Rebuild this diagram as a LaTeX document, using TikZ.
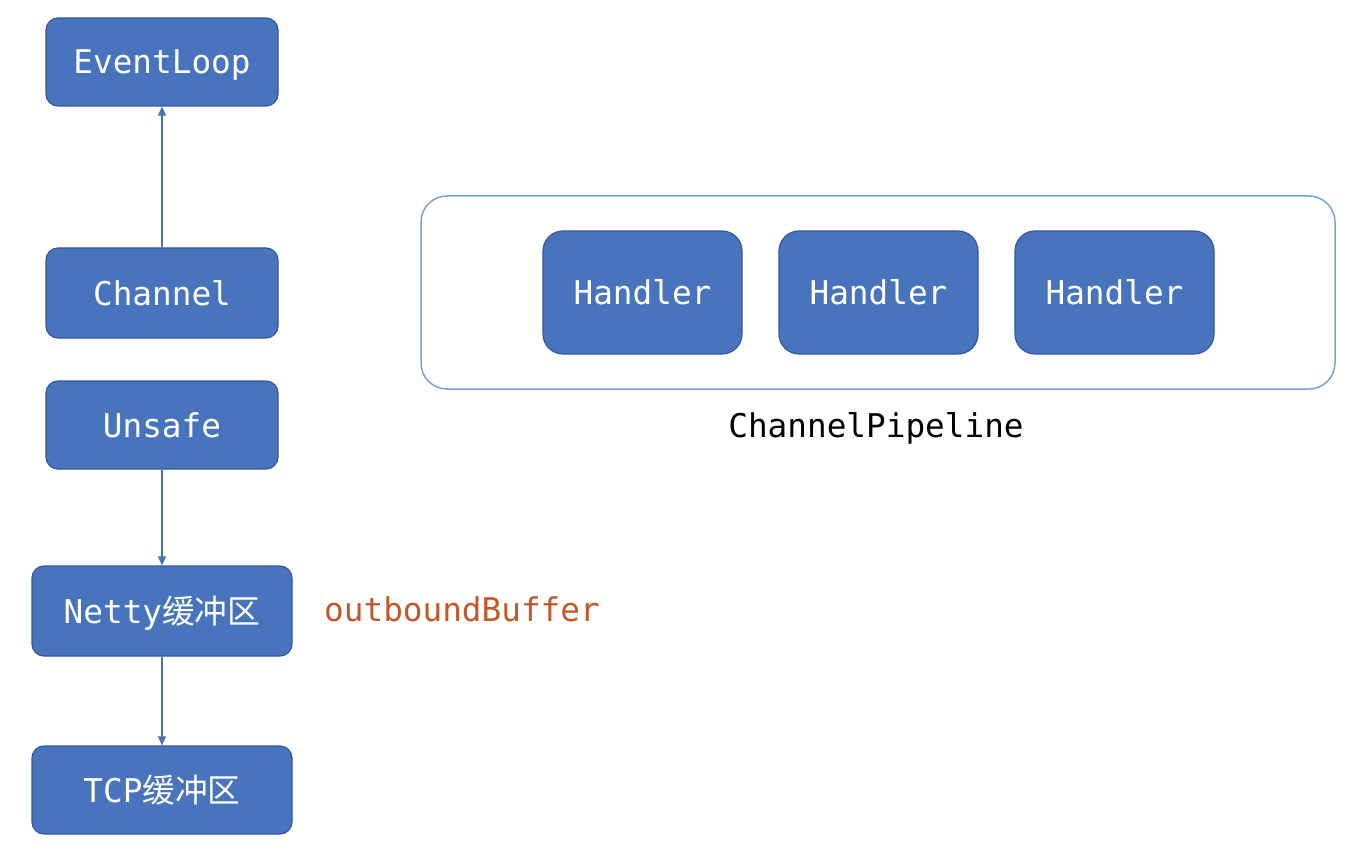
\documentclass[tikz,border=0pt]{standalone}
\usepackage{fontspec}
\setmainfont{DejaVu Sans Mono}
\newfontfamily\cjk{Noto Sans CJK SC}
\usetikzlibrary{arrows.meta}
\definecolor{boxfill}{HTML}{4874BE}
\definecolor{boxdraw}{HTML}{34589A}
\definecolor{linecol}{HTML}{4A72B0}
\definecolor{contdraw}{HTML}{75A4D4}
\definecolor{orangetxt}{HTML}{C0582A}
\tikzset{
  blk/.style={draw=boxdraw, line width=1.2pt, fill=boxfill, rounded corners=12pt,
    text=white, font=\fontsize{32.7}{36}\selectfont, inner sep=0pt, anchor=center,
    text height=24pt, text depth=0pt},
  hblk/.style={blk, rounded corners=20pt, minimum width=199pt, minimum height=123pt},
  conn/.style={draw=linecol, line width=1.5pt, -{Triangle[length=9pt,width=8pt]}},
  txt/.style={font=\fontsize{32.7}{36}\selectfont, inner sep=0pt, text height=24pt, text depth=0pt}
}
\begin{document}
\begin{tikzpicture}[x=1pt,y=-1pt]
\useasboundingbox (0,0) rectangle (1352,861);
\node[blk, minimum width=232pt, minimum height=88pt] (ev) at (162,62) {EventLoop};
\node[blk, minimum width=232pt, minimum height=90pt] (ch) at (162,293) {Channel};
\node[blk, minimum width=232pt, minimum height=88pt] (un) at (162,425) {Unsafe};
\node[blk, minimum width=260pt, minimum height=90pt] (nb) at (162,611) {Netty{\cjk 缓冲区}};
\node[blk, minimum width=260pt, minimum height=88pt] (tb) at (162,790) {TCP{\cjk 缓冲区}};
\node[draw=contdraw, line width=1.5pt, rounded corners=26pt, minimum width=914pt, minimum height=193pt, inner sep=0pt] (pipe) at (878,292.5) {};
\node[hblk] (h1) at (642.5,292.5) {Handler};
\node[hblk] (h2) at (878.5,292.5) {Handler};
\node[hblk] (h3) at (1114.5,292.5) {Handler};
\node[txt] (pl) at (876,425) {ChannelPipeline};
\node[txt, text=orangetxt] (ob) at (462,609) {outboundBuffer};
\draw[conn] (ch.north) -- (ev.south);
\draw[conn] (un.south) -- (nb.north);
\draw[conn] (nb.south) -- (tb.north);
\end{tikzpicture}
\end{document}
